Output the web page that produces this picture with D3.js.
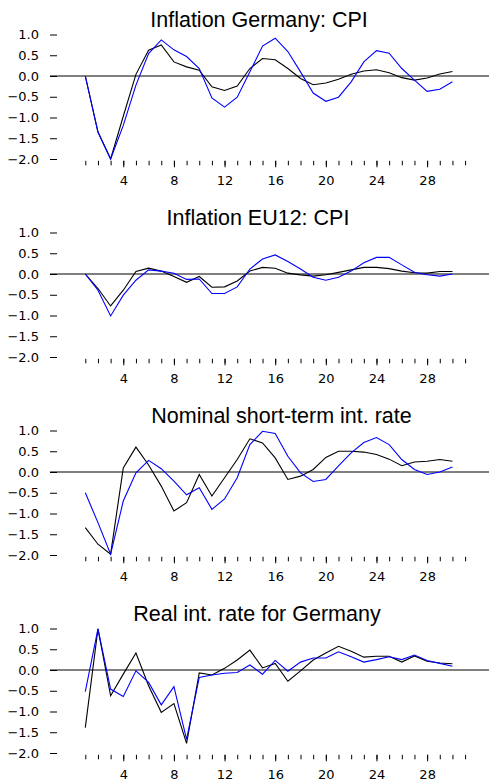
<!DOCTYPE html>
<html>
<head>
<meta charset="utf-8">
<script src="https://cdn.jsdelivr.net/npm/d3@7"></script>
<style>
  html, body { margin: 0; padding: 0; background: #fff; }
  svg { display: block; }
</style>
</head>
<body>
<div id="chart"></div>
<script>
// ── Données ─────────────────────────────────────────────────────────
const periods = d3.range(1, 31);
const titles = [
  'Inflation Germany: CPI',
  'Inflation EU12: CPI',
  'Nominal short-term int. rate',
  'Real int. rate for Germany',
];
const yTicks = [1.0, 0.5, 0.0, -0.5, -1.0, -1.5, -2.0];
const xMinorTicks = d3.range(1, 32);
const xMajorTicks = [4, 8, 12, 16, 20, 24, 28];

const gerCpiBlack = [0, -1.35, -2.0, -0.97, 0.04, 0.62, 0.75, 0.34, 0.22, 0.14, -0.26, -0.35, -0.24, 0.18, 0.42, 0.39, 0.18, -0.06, -0.21, -0.17, -0.08, 0.04, 0.12, 0.15, 0.08, -0.04, -0.10, -0.05, 0.05, 0.11];
const gerCpiBlue  = [0, -1.35, -2.0, -1.19, -0.22, 0.54, 0.87, 0.63, 0.47, 0.18, -0.53, -0.75, -0.51, 0.10, 0.72, 0.91, 0.59, 0.10, -0.41, -0.61, -0.51, -0.14, 0.34, 0.61, 0.55, 0.18, -0.10, -0.37, -0.32, -0.14];

const euCpiBlack = [0, -0.35, -0.77, -0.39, 0.06, 0.14, 0.07, -0.06, -0.20, -0.06, -0.32, -0.31, -0.17, 0.07, 0.16, 0.14, 0.02, -0.02, -0.05, -0.02, 0.04, 0.10, 0.16, 0.16, 0.13, 0.07, 0.03, 0.02, 0.06, 0.06];
const euCpiBlue  = [0, -0.39, -1.01, -0.51, -0.15, 0.10, 0.07, 0.02, -0.13, -0.12, -0.47, -0.47, -0.31, 0.12, 0.36, 0.46, 0.30, 0.12, -0.08, -0.15, -0.08, 0.07, 0.27, 0.40, 0.40, 0.22, 0.04, -0.02, -0.05, 0.0];

const nomRateBlack = [-1.34, -1.74, -1.98, 0.10, 0.60, 0.17, -0.34, -0.94, -0.74, -0.06, -0.58, -0.14, 0.30, 0.80, 0.70, 0.34, -0.18, -0.10, 0.06, 0.35, 0.50, 0.50, 0.48, 0.42, 0.31, 0.15, 0.24, 0.26, 0.30, 0.26];
const nomRateBlue  = [-0.50, -1.22, -1.98, -0.70, -0.02, 0.28, 0.08, -0.22, -0.55, -0.38, -0.90, -0.65, -0.14, 0.66, 0.98, 0.93, 0.38, -0.02, -0.23, -0.18, 0.15, 0.46, 0.71, 0.83, 0.66, 0.30, 0.06, -0.06, 0.0, 0.12];

const realRateBlack = [-1.39, 0.99, -0.62, -0.10, 0.41, -0.38, -1.02, -0.81, -1.77, -0.07, -0.12, 0.04, 0.24, 0.48, 0.05, 0.16, -0.27, -0.02, 0.24, 0.41, 0.57, 0.45, 0.31, 0.33, 0.33, 0.19, 0.34, 0.21, 0.17, 0.15];
const realRateBlue  = [-0.52, 0.99, -0.46, -0.64, -0.02, -0.30, -0.84, -0.40, -1.67, -0.18, -0.12, -0.08, -0.06, 0.12, -0.10, 0.23, -0.03, 0.19, 0.29, 0.29, 0.44, 0.32, 0.19, 0.25, 0.32, 0.25, 0.36, 0.23, 0.16, 0.09];

const panelSeries = [
  [gerCpiBlack, gerCpiBlue],
  [euCpiBlack, euCpiBlue],
  [nomRateBlack, nomRateBlue],
  [realRateBlack, realRateBlue],
];
const seriesColors = ['#000000', '#0000ff'];

// ── Mise en page ────────────────────────────────────────────────────
const W = 489, H = 780;
const TOP = 34.5, STEP = 198, PLOT_H = 124.5;
const TITLE_X = [259, 258, 281.5, 257];

const svg = d3.select('#chart').append('svg')
  .attr('width', W).attr('height', H)
  .style('font-family', '"DejaVu Sans", sans-serif');

const x = d3.scaleLinear().domain([1, 31]).range([85.3, 465.1]);

panelSeries.forEach((series, i) => {
  const top = TOP + i * STEP;
  const y = d3.scaleLinear().domain([1, -2]).range([top, top + PLOT_H]);
  const g = svg.append('g');

  // titre
  g.append('text')
    .attr('x', TITLE_X[i]).attr('y', top - 7.5)
    .attr('text-anchor', 'middle')
    .attr('font-family', '"Liberation Sans", Arial, sans-serif')
    .attr('font-size', 21.5)
    .attr('fill', '#000')
    .text(titles[i]);

  // axe vertical
  g.append('g').attr('transform', 'translate(57,0)')
    .call(d3.axisLeft(y).tickValues(yTicks).tickFormat(d3.format('.1f')).tickSize(7).tickPadding(11))
    .call(a => a.select('.domain').remove())
    .call(a => a.selectAll('line').attr('stroke', '#000'))
    .selectAll('text').attr('font-size', 13).attr('fill', '#000')
      .attr('font-family', '"DejaVu Sans", sans-serif')
      .text(d => d3.format('.1f')(d).replace('-', '-'));

  // ligne zéro
  g.append('line')
    .attr('x1', 50).attr('x2', W)
    .attr('y1', y(0)).attr('y2', y(0))
    .attr('stroke', '#000').attr('stroke-width', 1);

  // axe horizontal : petites graduations
  const xAxisY = y(-2) + 1.8;
  g.append('g').attr('transform', `translate(0,${xAxisY})`)
    .call(d3.axisBottom(x).tickValues(xMinorTicks).tickSize(4.5).tickFormat(''))
    .call(a => a.select('.domain').remove())
    .selectAll('line').attr('stroke', '#000');

  g.append('g').attr('transform', `translate(0,${xAxisY})`)
    .call(d3.axisBottom(x).tickValues(xMajorTicks).tickSize(6.5).tickPadding(8))
    .call(a => a.select('.domain').remove())
    .call(a => a.selectAll('line').attr('stroke', '#000'))
    .selectAll('text').attr('font-size', 13).attr('fill', '#000')
      .attr('font-family', '"DejaVu Sans", sans-serif');

  // séries
  const line = d3.line().x((d, k) => x(periods[k])).y(d => y(d));
  series.forEach((vals, s) => {
    g.append('path')
      .datum(vals)
      .attr('d', line)
      .attr('fill', 'none')
      .attr('stroke', seriesColors[s])
      .attr('stroke-width', 1.1);
  });
});
</script>
</body>
</html>
